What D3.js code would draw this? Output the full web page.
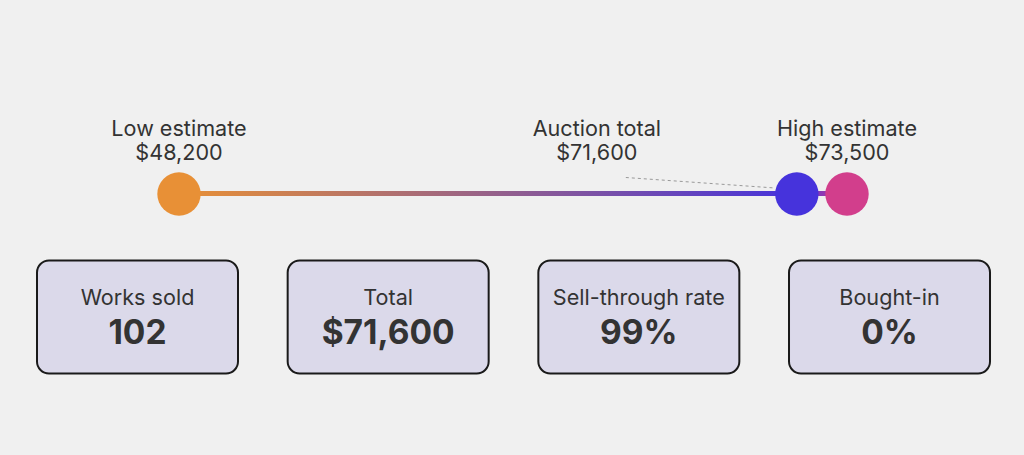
<!DOCTYPE html>
<html><head><meta charset="utf-8">
<script src="https://cdn.jsdelivr.net/npm/d3@7"></script>
<style>
html,body{margin:0;padding:0;background:#f0f0f0;}
svg{display:block;font-family:Inter,"Noto Sans",sans-serif;}
</style></head>
<body>
<svg id="chart" width="1024" height="455"></svg>
<script>
const markerLabels = ["Low estimate", "Auction total", "High estimate"];
const markerValues = [48200, 71600, 73500];
const markerColors = ["#e89036", "#4633dc", "#d23e8c"];
const statLabels = ["Works sold", "Total", "Sell-through rate", "Bought-in"];
const statValues = ["102", "$71,600", "99%", "0%"];

const svg = d3.select("#chart");
const W = 1024, H = 455;
svg.append("rect").attr("width", W).attr("height", H).attr("fill", "#f0f0f0");

const x = d3.scaleLinear().domain([markerValues[0], markerValues[2]]).range([179, 847]);
const cy = 194, r = 21.7;
const fmt = v => "$" + d3.format(",")(v);

const defs = svg.append("defs");
const grad = defs.append("linearGradient").attr("id", "lg")
  .attr("gradientUnits", "userSpaceOnUse")
  .attr("x1", x(markerValues[0])).attr("x2", x(markerValues[2]))
  .attr("y1", 0).attr("y2", 0);
const frac = (markerValues[1] - markerValues[0]) / (markerValues[2] - markerValues[0]);
grad.append("stop").attr("offset", 0).attr("stop-color", markerColors[0]);
grad.append("stop").attr("offset", frac).attr("stop-color", markerColors[1]);
grad.append("stop").attr("offset", 1).attr("stop-color", markerColors[2]);

svg.append("line")
  .attr("x1", x(markerValues[0])).attr("x2", x(markerValues[2]))
  .attr("y1", cy - 0.5).attr("y2", cy - 0.5)
  .attr("stroke", "url(#lg)").attr("stroke-width", 5);

// label offsets (layout)
const labelDx = [0, -200, 0];

// leader line for auction total
const ax = x(markerValues[1]);
svg.append("line")
  .attr("x1", ax + labelDx[1] + 29).attr("y1", 177.5)
  .attr("x2", ax - r).attr("y2", 188)
  .attr("stroke", "#999").attr("stroke-width", 1)
  .attr("stroke-dasharray", "3,3");

const order = [0, 2, 1];
svg.selectAll("circle.m").data(order).join("circle")
  .attr("class", "m")
  .attr("cx", i => x(markerValues[i])).attr("cy", cy).attr("r", r)
  .attr("fill", i => markerColors[i]);

const lg = svg.selectAll("g.lab").data(markerValues).join("g").attr("class", "lab")
  .attr("transform", (d, i) => `translate(${x(d) + labelDx[i]},0)`);
lg.append("text").attr("y", 135.5).attr("text-anchor", "middle")
  .attr("font-size", 21.6).attr("fill", "#333").text((d, i) => markerLabels[i]);
lg.append("text").attr("y", 160).attr("text-anchor", "middle")
  .attr("font-size", 21.6).attr("fill", "#333").text(d => fmt(d));

// stat boxes
const bx = d3.scaleBand().domain(d3.range(statLabels.length)).range([37, 37 + 4 * 250.67]).paddingInner(0);
const bw = 201, bh = 113, by = 260.5;
const g = svg.selectAll("g.box").data(statLabels).join("g").attr("class", "box")
  .attr("transform", (d, i) => `translate(${bx(i)},${by})`);
g.append("rect").attr("width", bw).attr("height", bh).attr("rx", 12)
  .attr("fill", "#dbd9ea").attr("stroke", "#1a1a1a").attr("stroke-width", 2);
g.append("text").attr("x", bw / 2).attr("y", 44.5).attr("text-anchor", "middle")
  .attr("font-size", 21.6).attr("fill", "#333").text(d => d);
g.append("text").attr("x", bw / 2).attr("y", 83.5).attr("text-anchor", "middle")
  .attr("font-size", 33.5).attr("font-weight", 700).attr("fill", "#333").text((d, i) => statValues[i]);
</script>
</body></html>
